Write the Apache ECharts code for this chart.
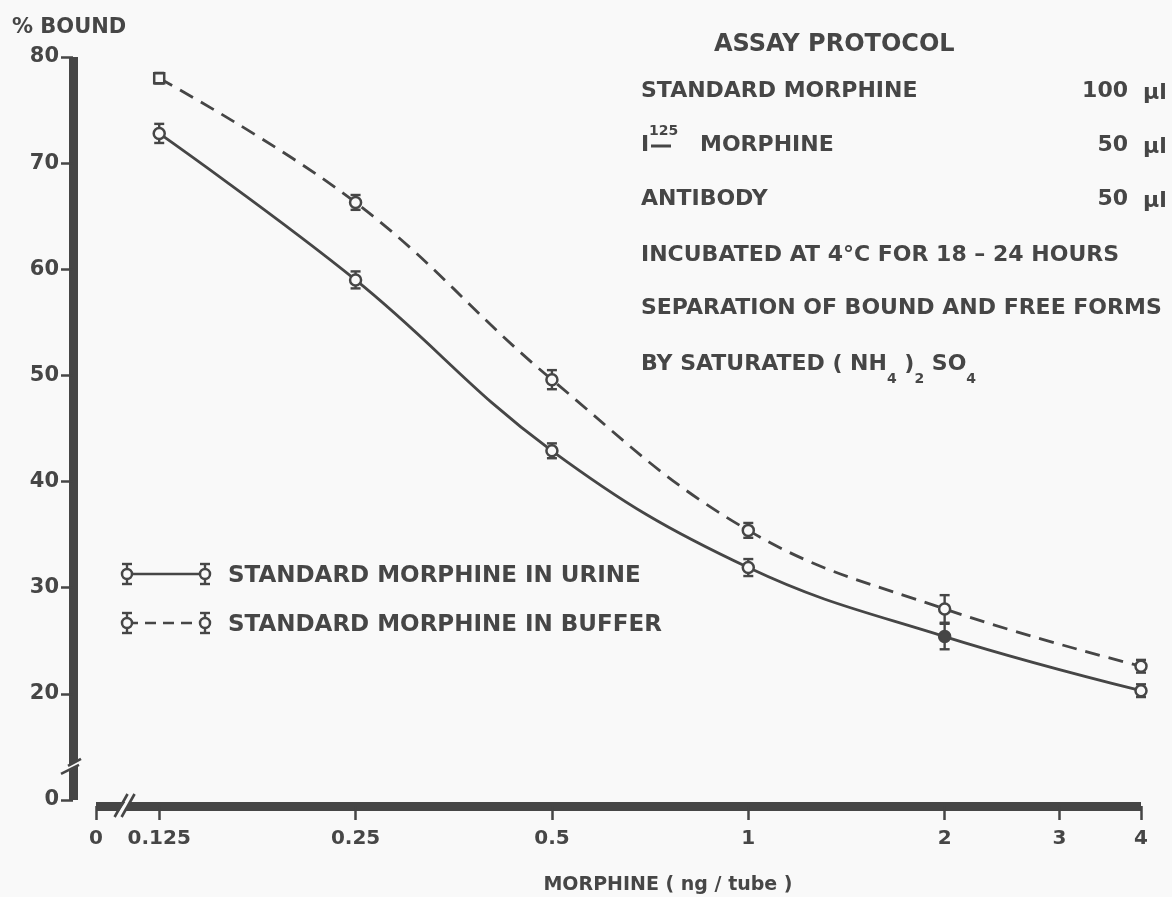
<!DOCTYPE html>
<html>
<head>
<meta charset="utf-8">
<title>Morphine radioimmunoassay standard curves</title>
<script src="https://cdn.jsdelivr.net/npm/echarts@6/dist/echarts.min.js"></script>
<style>
  html, body { margin: 0; padding: 0; background: #f9f9f9; }
  #chart { width: 1172px; height: 897px; }
</style>
</head>
<body>
<div id="chart"></div>
<script>
// ---- data -------------------------------------------------------------
// morphine dose per tube (ng)
const doses = [0.125, 0.25, 0.5, 1, 2, 4];
// % bound, standard morphine in urine (mean and error)
const urineBound = [72.8, 59.0, 42.9, 31.9, 25.4, 20.3];
const urineErr   = [0.9, 0.8, 0.7, 0.8, 1.2, 0.6];
// % bound, standard morphine in buffer (mean and error)
const bufferBound = [78.0, 66.3, 49.6, 35.4, 28.0, 22.6];
const bufferErr   = [0.5, 0.7, 0.9, 0.7, 1.3, 0.6];

// the x axis is logarithmic and broken before 0.125; its origin sits at 0.1
const X_ORIGIN = 0.1;
const xTicks = [X_ORIGIN, 0.125, 0.25, 0.5, 1, 2, 3, 4];
// the y axis is broken below 20; its origin sits one interval below 20
const Y_ORIGIN = 10;
const Y_MAX = 80;

const legendNames = ['STANDARD MORPHINE IN URINE', 'STANDARD MORPHINE IN BUFFER'];
const protocolTitle = 'ASSAY PROTOCOL';
const reagents = ['STANDARD MORPHINE', 'MORPHINE', 'ANTIBODY'];
const reagentVolumes = ['100', '50', '50'];
const volumeUnit = 'μl';

// ---- styling / layout -------------------------------------------------
const INK = '#464646';
const PAPER = '#f9f9f9';
const FONT = '"DejaVu Sans", "Liberation Sans", sans-serif';
const L = { left: 96, right: 31, top: 57, bottom: 97, yOffset: 23, xOffset: 6 };

const chart = echarts.init(document.getElementById('chart'), null, { renderer: 'canvas' });

function errorBars(name, ys, es) {
  return {
    type: 'custom',
    name: name,
    silent: true,
    z: 2,
    data: doses.map((d, i) => [d, ys[i] - es[i], ys[i] + es[i]]),
    encode: { x: 0, y: [1, 2] },
    renderItem(params, api) {
      const lo = api.coord([api.value(0), api.value(1)]);
      const hi = api.coord([api.value(0), api.value(2)]);
      const c = 5;
      const st = { stroke: INK, lineWidth: 2.4 };
      return {
        type: 'group',
        children: [
          { type: 'line', shape: { x1: lo[0], y1: lo[1], x2: hi[0], y2: hi[1] }, style: st },
          { type: 'line', shape: { x1: lo[0] - c, y1: lo[1], x2: lo[0] + c, y2: lo[1] }, style: st },
          { type: 'line', shape: { x1: hi[0] - c, y1: hi[1], x2: hi[0] + c, y2: hi[1] }, style: st }
        ]
      };
    }
  };
}

function curve(name, ys, dashed, overrides) {
  return {
    type: 'line',
    name: name,
    z: 3,
    smooth: 0.4,
    symbol: 'circle',
    symbolSize: 11,
    data: doses.map((d, i) => Object.assign({ value: [d, ys[i]] }, overrides[i] || {})),
    lineStyle: { color: INK, width: 2.8, type: dashed ? [15, 9] : 'solid' },
    itemStyle: { color: PAPER, borderColor: INK, borderWidth: 2.5 }
  };
}

const boldText = (size) => ({ fontFamily: FONT, fontWeight: 'bold', fontSize: size, color: INK });

chart.setOption({
  backgroundColor: PAPER,
  animation: false,
  grid: { left: L.left, right: L.right, top: L.top, bottom: L.bottom, outerBoundsMode: 'none' },
  xAxis: {
    type: 'log',
    logBase: 2,
    min: X_ORIGIN,
    max: 4,
    offset: L.xOffset,
    axisLine: { show: true, onZero: false, lineStyle: { color: INK, width: 9, cap: 'butt' } },
    axisTick: { show: true, customValues: xTicks, length: 14, lineStyle: { color: INK, width: 2.5 } },
    axisLabel: Object.assign(boldText(20), {
      customValues: xTicks,
      margin: 23,
      formatter: (v) => (v === X_ORIGIN ? '0' : String(v))
    }),
    splitLine: { show: false },
    minorTick: { show: false }
  },
  yAxis: {
    type: 'value',
    min: Y_ORIGIN,
    max: Y_MAX,
    interval: 10,
    offset: L.yOffset,
    axisLine: { show: true, onZero: false, lineStyle: { color: INK, width: 9, cap: 'butt' } },
    axisTick: { show: true, length: 12, lineStyle: { color: INK, width: 2.5 } },
    axisLabel: Object.assign(boldText(21), {
      margin: 14,
      formatter: (v) => (v === Y_ORIGIN ? '0' : String(v))
    }),
    splitLine: { show: false }
  },
  series: [
    errorBars('urine error', urineBound, urineErr),
    errorBars('buffer error', bufferBound, bufferErr),
    curve(legendNames[0], urineBound, false, { 4: { itemStyle: { color: INK } } }),
    curve(legendNames[1], bufferBound, true, { 0: { symbol: 'rect', symbolSize: 10 } })
  ]
});

// ---- decorations: axis breaks, legend, captions ----------------------
const yAxisX = L.left - L.yOffset;
const xAxisY = chart.convertToPixel({ yAxisIndex: 0 }, Y_ORIGIN) + L.xOffset;
const yBreak = chart.convertToPixel({ yAxisIndex: 0 }, 13.4);
const xBreak = chart.convertToPixel({ xAxisIndex: 0 }, 0.111);

const g = [];
const stroke = (w) => ({ stroke: INK, lineWidth: w, fill: null });

// y-axis break
g.push({ type: 'polygon', z: 50, shape: { points: [[yAxisX - 6, yBreak + 2], [yAxisX + 6, yBreak - 5], [yAxisX + 6, yBreak + 1], [yAxisX - 6, yBreak + 8]] }, style: { fill: PAPER } });
g.push({ type: 'line', z: 51, shape: { x1: yAxisX - 12, y1: yBreak + 10, x2: yAxisX + 6, y2: yBreak + 1 }, style: stroke(2.6) });
g.push({ type: 'line', z: 51, shape: { x1: yAxisX - 5, y1: yBreak + 2, x2: yAxisX + 8, y2: yBreak - 5 }, style: stroke(2.6) });

// x-axis break
g.push({ type: 'polygon', z: 50, shape: { points: [[xBreak - 7, xAxisY + 6], [xBreak + 1, xAxisY - 6], [xBreak + 6, xAxisY - 6], [xBreak - 2, xAxisY + 6]] }, style: { fill: PAPER } });
g.push({ type: 'line', z: 51, shape: { x1: xBreak - 11, y1: xAxisY + 11, x2: xBreak + 2, y2: xAxisY - 12 }, style: stroke(2.6) });
g.push({ type: 'line', z: 51, shape: { x1: xBreak - 4, y1: xAxisY + 11, x2: xBreak + 9, y2: xAxisY - 12 }, style: stroke(2.6) });

// legend glyphs: point with error bar at both ends of a line sample
function legendGlyph(x1, x2, y, dashed) {
  g.push({ type: 'line', z: 40, shape: { x1: x1, y1: y, x2: x2, y2: y }, style: { stroke: INK, lineWidth: 2.6, lineDash: dashed ? [11, 7] : null } });
  [x1, x2].forEach((x) => {
    g.push({ type: 'line', z: 40, shape: { x1: x, y1: y - 10, x2: x, y2: y + 10 }, style: stroke(2.4) });
    g.push({ type: 'line', z: 40, shape: { x1: x - 5, y1: y - 10, x2: x + 5, y2: y - 10 }, style: stroke(2.4) });
    g.push({ type: 'line', z: 40, shape: { x1: x - 5, y1: y + 10, x2: x + 5, y2: y + 10 }, style: stroke(2.4) });
    g.push({ type: 'circle', z: 41, shape: { cx: x, cy: y, r: 5 }, style: { fill: PAPER, stroke: INK, lineWidth: 2.5 } });
  });
}
function text(x, y, str, size, extra) {
  g.push({
    type: 'text', z: 60, x: x, y: y,
    style: Object.assign({ text: str, fill: INK, font: 'bold ' + size + 'px ' + FONT, verticalAlign: 'middle', align: 'left' }, extra || {})
  });
}

legendGlyph(127, 205, 574, false);
legendGlyph(127, 205, 623, true);
text(228, 576, legendNames[0], 23);
text(228, 625, legendNames[1], 23);

// axis captions
text(12, 28, '% BOUND', 21);
text(668, 885, 'MORPHINE ( ng / tube )', 19, { align: 'center' });

// assay protocol block
const px = 641;
text(714, 45, protocolTitle, 24);
const rows = [91, 145, 199];
text(px, rows[0], reagents[0], 22);
text(px, rows[1], 'I', 22);
text(px + 8, rows[1] - 14, '125', 14);
g.push({ type: 'line', z: 60, shape: { x1: px + 10, y1: rows[1] + 1, x2: px + 30, y2: rows[1] + 1 }, style: stroke(3) });
text(px + 59, rows[1], reagents[1], 22);
text(px, rows[2], reagents[2], 22);
rows.forEach((y, i) => {
  text(1128, y, reagentVolumes[i], 22, { align: 'right' });
  text(1143, y + 2, volumeUnit, 22);
});
text(px, 255, 'INCUBATED AT 4°C FOR 18 – 24 HOURS', 22);
text(px, 308, 'SEPARATION OF BOUND AND FREE FORMS', 22);
g.push({
  type: 'text', z: 60, x: px, y: 364,
  style: {
    text: 'BY SATURATED ( NH{s|4} ){s|2} SO{s|4}',
    fill: INK, font: 'bold 22px ' + FONT, verticalAlign: 'middle', align: 'left',
    rich: {
      s: { fontFamily: FONT, fontWeight: 'bold', fontSize: 14, fill: INK, lineHeight: 14, verticalAlign: 'bottom' }
    },
    lineHeight: 44
  }
});

chart.setOption({ graphic: { elements: g } });
</script>
</body>
</html>
